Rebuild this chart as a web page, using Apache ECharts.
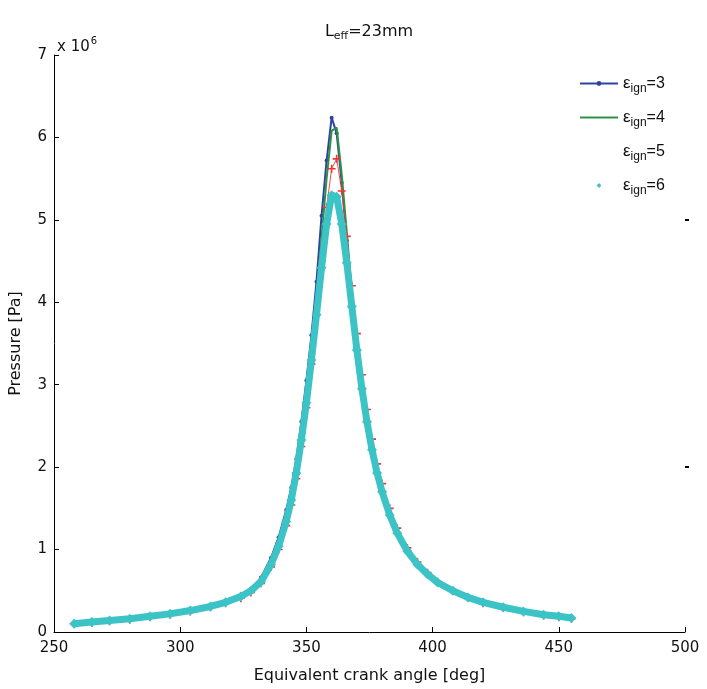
<!DOCTYPE html>
<html>
<head>
<meta charset="utf-8">
<script src="https://cdn.jsdelivr.net/npm/echarts@6/dist/echarts.min.js"></script>
<style>
html,body{margin:0;padding:0;background:#fff;}
#chart{width:707px;height:689px;}
</style>
</head>
<body>
<div id="chart"></div>
<script>
// Crank angle grid [deg]
var angle = [258,265,272,280,288,296,304,312,318,324,328,332,336,339,342,344,346,348,350,352,354,356,358,360,362,364,366,368,370,372,374,376,378,380,383,386,390,394,398,402,408,414,420,428,436,444,450,455];
// Pressure (x 10^6 Pa) per ignition ratio
var p_eign3 = [0.10,0.12,0.14,0.16,0.19,0.22,0.26,0.31,0.36,0.44,0.52,0.66,0.90,1.15,1.48,1.75,2.10,2.55,3.05,3.60,4.25,5.05,5.72,6.24,6.05,5.45,4.75,4.05,3.45,2.95,2.58,2.24,1.95,1.70,1.42,1.20,0.98,0.82,0.70,0.60,0.49,0.41,0.35,0.29,0.24,0.20,0.18,0.16];
var p_eign4 = [0.10,0.12,0.14,0.16,0.19,0.22,0.26,0.31,0.36,0.43,0.50,0.62,0.84,1.07,1.38,1.64,1.98,2.40,2.88,3.42,4.05,4.78,5.50,6.08,6.12,5.55,4.85,4.12,3.50,3.00,2.60,2.25,1.96,1.72,1.44,1.22,0.99,0.83,0.71,0.61,0.50,0.42,0.36,0.30,0.25,0.21,0.19,0.17];
var p_eign5 = [0.10,0.11,0.13,0.15,0.18,0.21,0.25,0.30,0.35,0.41,0.48,0.59,0.79,1.00,1.29,1.54,1.86,2.25,2.72,3.25,3.85,4.50,5.15,5.62,5.74,5.35,4.80,4.20,3.62,3.12,2.70,2.34,2.04,1.80,1.50,1.26,1.02,0.85,0.72,0.61,0.50,0.42,0.35,0.29,0.24,0.20,0.18,0.16];
var p_eign6 = [0.10,0.12,0.14,0.16,0.19,0.22,0.26,0.31,0.36,0.43,0.50,0.61,0.82,1.04,1.34,1.60,1.93,2.33,2.78,3.30,3.85,4.42,4.95,5.30,5.28,4.95,4.48,3.95,3.42,2.95,2.55,2.21,1.93,1.70,1.42,1.20,0.98,0.82,0.70,0.60,0.50,0.42,0.36,0.30,0.25,0.21,0.19,0.17];
// Axis ticks
var xTicks = [250,300,350,400,450,500];
var yTicks = [0,1,2,3,4,5,6,7];
var legendSuffix = {e3:'=3', e4:'=4', e5:'=5', e6:'=6'};

function pairs(arr){ return angle.map(function(a,i){ return [a, arr[i]]; }); }

var FONT = 'DejaVu Sans, Verdana, sans-serif';
var LFONT = 'Liberation Sans, Arial, sans-serif';
var chart = echarts.init(document.getElementById('chart'), null, {renderer:'canvas'});
var option = {
  animation: false,
  backgroundColor: '#fff',
  textStyle: {fontFamily: FONT, color: '#111'},
  title: {
    text: '{l|L}{s|eff}{n|=23mm}',
    left: 364, top: 16, textAlign: 'center',
    textStyle: {
      fontWeight: 'normal',
      rich: {
        l: {fontSize: 16, fontFamily: FONT, color: '#111', fontWeight: 'normal'},
        s: {fontSize: 11, fontFamily: FONT, color: '#111', fontWeight: 'normal', padding: [10,0,0,0]},
        n: {fontSize: 16, fontFamily: FONT, color: '#111', fontWeight: 'normal'}
      }
    }
  },
  graphic: [{
    type: 'text', left: 57, top: 36,
    style: {text: '{a|x 10}{b|6}', fill: '#111',
      rich: {a: {fontSize: 15, fontFamily: FONT}, b: {fontSize: 10, fontFamily: FONT, padding: [0,0,12,1]}}}
  }],
  legend: {
    orient: 'vertical', left: 574, top: 70,
    itemWidth: 38, itemHeight: 6, itemGap: 14,
    data: [
      {name: 'e3'},
      {name: 'e4', itemStyle: {opacity: 0}},
      {name: 'e5', itemStyle: {opacity: 0}, lineStyle: {opacity: 0}},
      {name: 'e6', lineStyle: {opacity: 0}}
    ],
    formatter: function(n){ return '{e|ε}{s|ign}{n|' + legendSuffix[n] + '}'; },
    textStyle: {
      rich: {
        e: {fontSize: 17, fontFamily: LFONT, color: '#111'},
        s: {fontSize: 12, fontFamily: LFONT, color: '#111', padding: [11,0,0,0]},
        n: {fontSize: 16, fontFamily: LFONT, color: '#111'}
      }
    }
  },
  grid: {left: 54, right: 22, top: 55, bottom: 50, containLabel: false},
  xAxis: {
    type: 'value', min: xTicks[0], max: xTicks[xTicks.length-1], interval: 50,
    name: 'Equivalent crank angle [deg]', nameLocation: 'middle', nameGap: 36,
    nameTextStyle: {fontSize: 16, fontFamily: FONT, color: '#111'},
    axisLine: {show: true, lineStyle: {color: '#000', width: 1}},
    axisTick: {show: true, inside: true, length: 5, lineStyle: {color: '#000'}},
    axisLabel: {fontSize: 15, fontFamily: FONT, color: '#111', margin: 9},
    splitLine: {show: false}
  },
  yAxis: [{
    type: 'value', min: yTicks[0], max: yTicks[yTicks.length-1], interval: 1,
    name: 'Pressure [Pa]', nameLocation: 'middle', nameGap: 30, nameRotate: 90,
    nameTextStyle: {fontSize: 16, fontFamily: FONT, color: '#111'},
    axisLine: {show: true, lineStyle: {color: '#000', width: 1}},
    axisTick: {show: true, inside: true, length: 5, lineStyle: {color: '#000'}},
    axisLabel: {fontSize: 15, fontFamily: FONT, color: '#111', margin: 7},
    splitLine: {show: false}
  }, {
    type: 'value', position: 'right', min: 0, max: 7, interval: 1,
    axisLine: {show: false},
    axisTick: {show: true, inside: false, length: 4, customValues: [2,5], lineStyle: {color: '#000', width: 2}},
    axisLabel: {show: false},
    splitLine: {show: false}
  }],
  series: [
    {name: 'e3', type: 'line', data: pairs(p_eign3), color: '#2f43a3',
     lineStyle: {width: 2, color: '#2f43a3'}, symbol: 'circle', symbolSize: 4, showSymbol: true,
     itemStyle: {color: '#2f43a3'}, z: 2},
    {name: 'e4', type: 'line', data: pairs(p_eign4), color: '#2f9146',
     lineStyle: {width: 2, color: '#2f9146'}, symbol: 'none', z: 3},
    {name: 'e5', type: 'line', data: pairs(p_eign5), color: '#ee3535',
     lineStyle: {width: 1, color: '#ee3535', opacity: 0.9},
     symbol: 'path://M4,0H6V4H10V6H6V10H4V6H0V4H4Z', symbolSize: 8, showSymbol: true,
     itemStyle: {color: '#ee3535'}, z: 4},
    {name: 'e6', type: 'line', data: pairs(p_eign6), color: '#3cc3c6',
     lineStyle: {width: 7, color: '#3cc3c6'}, symbol: 'diamond', symbolSize: 10, showSymbol: true,
     itemStyle: {color: '#3cc3c6'}, z: 5}
  ]
};
chart.setOption(option);
</script>
</body>
</html>
